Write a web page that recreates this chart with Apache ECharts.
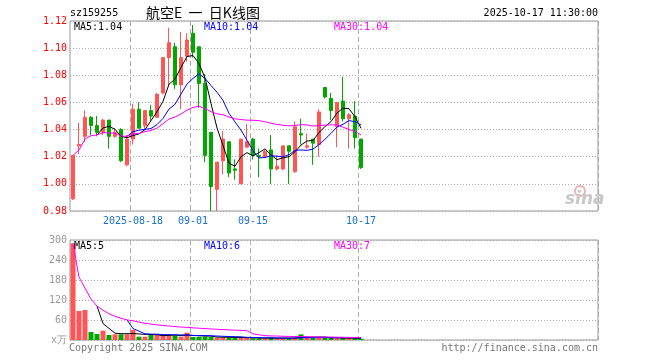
<!DOCTYPE html>
<html><head><meta charset="utf-8">
<script src="https://cdn.jsdelivr.net/npm/echarts@6/dist/echarts.min.js"></script>
<style>html,body{margin:0;padding:0;background:#fff}#c{width:660px;height:360px}</style>
</head><body><div id="c"></div>
<script>
// ---- data ----
const dates = ['2025-08-04','2025-08-05','2025-08-06','2025-08-07','2025-08-08',
  '2025-08-11','2025-08-12','2025-08-13','2025-08-14','2025-08-15',
  '2025-08-18','2025-08-19','2025-08-20','2025-08-21','2025-08-22',
  '2025-08-25','2025-08-26','2025-08-27','2025-08-28','2025-08-29',
  '2025-09-01','2025-09-02','2025-09-03','2025-09-04','2025-09-05',
  '2025-09-08','2025-09-09','2025-09-10','2025-09-11','2025-09-12',
  '2025-09-15','2025-09-16','2025-09-17','2025-09-18','2025-09-19',
  '2025-09-22','2025-09-23','2025-09-24','2025-09-25','2025-09-26',
  '2025-09-29','2025-09-30','2025-10-09','2025-10-10',
  '2025-10-13','2025-10-14','2025-10-15','2025-10-16','2025-10-17'];
const opens  = [0.989,1.028,1.035,1.049,1.043,1.038,1.047,1.035,1.040,1.014,
  1.033,1.055,1.043,1.054,1.049,1.067,1.093,1.101,1.073,1.094,
  1.111,1.101,1.074,1.038,0.996,1.017,1.031,1.011,1.000,1.027,
  1.033,1.021,1.020,1.025,1.011,1.011,1.028,1.009,1.037,1.027,
  1.033,1.029,1.071,1.063,1.042,1.061,1.048,1.050,1.033];
const closes = [1.021,1.029,1.049,1.043,1.038,1.047,1.035,1.038,1.017,1.033,
  1.055,1.041,1.054,1.050,1.066,1.093,1.104,1.073,1.093,1.106,
  1.097,1.074,1.021,0.998,1.016,1.033,1.008,1.010,1.033,1.031,
  1.021,1.020,1.024,1.011,1.013,1.028,1.024,1.042,1.036,1.028,
  1.030,1.053,1.064,1.054,1.060,1.048,1.051,1.034,1.012];
const lows   = [0.988,1.022,1.031,1.036,1.035,1.036,1.026,1.034,1.016,1.013,
  1.029,1.041,1.040,1.046,1.049,1.066,1.072,1.070,1.055,1.090,
  1.093,1.056,1.016,0.980,0.980,1.007,1.005,1.003,1.000,1.027,
  1.018,1.005,1.019,1.000,1.010,1.010,1.000,1.008,1.029,1.026,
  1.014,1.020,1.063,1.047,1.027,1.046,1.026,1.026,1.011];
const highs  = [1.021,1.045,1.054,1.050,1.050,1.048,1.047,1.041,1.041,1.036,
  1.059,1.060,1.054,1.058,1.067,1.093,1.115,1.104,1.112,1.111,
  1.117,1.101,1.081,1.038,1.016,1.039,1.031,1.018,1.033,1.044,
  1.034,1.026,1.025,1.036,1.021,1.028,1.028,1.046,1.048,1.037,
  1.033,1.055,1.071,1.067,1.060,1.079,1.052,1.061,1.033];
const volumes = [290,87,90,24,18,28,15,17,17,17,
  30,10,10,15,15,15,15,13,10,22,
  9,9,10,9,7,8,7,8,7,6,
  5,5,5,7,5,5,5,7,17,7,
  7,7,6,6,5,6,5,5,4];
const markedDates = ['2025-08-18','2025-09-01','2025-09-15','2025-10-17'];
const priceMin = 0.98, priceMax = 1.12, priceStep = 0.02;
const volMin = 0, volMax = 300, volStep = 60;

// ---- layout / style ----
const SLOTS = 88;
const RED = '#ff5555', GREEN = '#00a800';
const MONO = 'DejaVu Sans Mono';
const GRID_L = 70, GRID_W = 528;

function ma(arr, n, partial) {
  return arr.map((_, i) => {
    if (i < n - 1 && !partial) return '-';
    const s = Math.max(0, i - n + 1);
    let sum = 0;
    for (let k = s; k <= i; k++) sum += arr[k];
    return +(sum / (i - s + 1)).toFixed(4);
  });
}
const pMA5 = ma(closes, 5, false), pMA10 = ma(closes, 10, false), pMA30 = ma(closes, 30, true);
const vMA5 = ma(volumes, 5, false), vMA10 = ma(volumes, 10, false), vMA30 = ma(volumes, 30, true);
const last = a => a[a.length - 1];

const cats = dates.concat(Array.from({length: SLOTS - dates.length}, (_, k) => 'pad' + k));
const markIdx = markedDates.map(d => dates.indexOf(d));
const isMark = i => markIdx.indexOf(i) >= 0;

const up = dates.map((_, i) => closes[i] >= opens[i]);
const kData = dates.map((_, i) => [opens[i], closes[i], lows[i], highs[i]]);
const vData = volumes.map((v, i) => ({value: v, itemStyle: {color: up[i] ? RED : GREEN}}));

const splitV = {show: true, interval: (i) => isMark(i), lineStyle: {color: '#aaa', type: [5, 3], width: 1}};
const splitH = {show: true, lineStyle: {color: '#aaa', type: [1, 2], width: 1}};

function lineSeries(data, color, xi) {
  return {type: 'line', data, xAxisIndex: xi, yAxisIndex: xi, showSymbol: false, symbol: 'none',
    lineStyle: {color, width: 1}, itemStyle: {color}, z: 5, silent: true};
}
function txt(x, y, text, color, extra) {
  return Object.assign({type: 'text', x, y, style: Object.assign({text, fill: color, font: '10px ' + MONO,
    textVerticalAlign: 'middle'}, extra || {})}, {z: 100});
}

const chart = echarts.init(document.getElementById('c'), null, {renderer: 'canvas'});
chart.setOption({
  animation: false,
  backgroundColor: '#fff',
  grid: [
    {left: GRID_L, top: 21, width: GRID_W, height: 190, show: true, borderColor: '#999', borderWidth: 1},
    {left: GRID_L, top: 240, width: GRID_W, height: 100, show: true, borderColor: '#999', borderWidth: 1}
  ],
  xAxis: [
    {type: 'category', gridIndex: 0, data: cats, boundaryGap: true,
      axisLine: {show: false}, axisTick: {show: false},
      axisLabel: {interval: (i) => isMark(i), margin: 5, color: '#1a6fd0', fontSize: 10, fontFamily: MONO,
        formatter: (v) => v === markedDates[0] ? v : v.slice(5)},
      splitLine: splitV},
    {type: 'category', gridIndex: 1, data: cats, boundaryGap: true,
      axisLine: {show: false}, axisTick: {show: false}, axisLabel: {show: false},
      splitLine: splitV}
  ],
  yAxis: [
    {type: 'value', gridIndex: 0, min: priceMin, max: priceMax, interval: priceStep,
      axisLine: {show: false}, axisTick: {show: false}, splitLine: splitH,
      axisLabel: {color: '#ff0000', fontSize: 10, fontFamily: MONO, margin: 3, formatter: v => v.toFixed(2)}},
    {type: 'value', gridIndex: 1, min: volMin, max: volMax, interval: volStep,
      axisLine: {show: false}, axisTick: {show: false}, splitLine: splitH,
      axisLabel: {color: '#999', fontSize: 10, fontFamily: MONO, margin: 3, formatter: v => v === 0 ? 'x万' : String(v)}}
  ],
  series: [
    {type: 'candlestick', xAxisIndex: 0, yAxisIndex: 0, data: kData, barWidth: 4,
      itemStyle: {color: RED, color0: GREEN, borderColor: RED, borderColor0: GREEN, borderWidth: 1}},
    lineSeries(pMA5, '#000000', 0),
    lineSeries(pMA10, '#0000ff', 0),
    lineSeries(pMA30, '#ff00ff', 0),
    {type: 'bar', xAxisIndex: 1, yAxisIndex: 1, data: vData, barWidth: 5},
    lineSeries(vMA5, '#000000', 1),
    lineSeries(vMA10, '#0000ff', 1),
    lineSeries(vMA30, '#ff00ff', 1)
  ],
  graphic: [
    txt(70, 13, 'sz159255', '#000'),
    txt(203, 13, '航空E  一  日K线图', '#000', {font: '14px "Noto Sans CJK SC"', textAlign: 'center'}),
    txt(598, 13, '2025-10-17 11:30:00', '#000', {textAlign: 'right'}),
    txt(74, 27, 'MA5:' + last(pMA5).toFixed(2), '#000'),
    txt(204, 27, 'MA10:' + last(pMA10).toFixed(2), '#0000ff'),
    txt(334, 27, 'MA30:' + last(pMA30).toFixed(2), '#ff00ff'),
    txt(74, 246, 'MA5:' + Math.round(last(vMA5)), '#000'),
    txt(204, 246, 'MA10:' + Math.round(last(vMA10)), '#0000ff'),
    txt(334, 246, 'MA30:' + Math.round(last(vMA30)), '#ff00ff'),
    txt(69, 348, 'Copyright 2025 SINA.COM', '#777'),
    txt(598, 348, 'http://finance.sina.com.cn', '#777', {textAlign: 'right'}),
    {type: 'circle', shape: {cx: 580, cy: 191, r: 5}, style: {fill: 'none', stroke: '#f2b0b0', lineWidth: 2}, z: 1},
    txt(565, 200, 'sina', '#c8c8c8', {font: 'italic bold 17px "DejaVu Sans"'})
  ]
});
</script></body></html>
